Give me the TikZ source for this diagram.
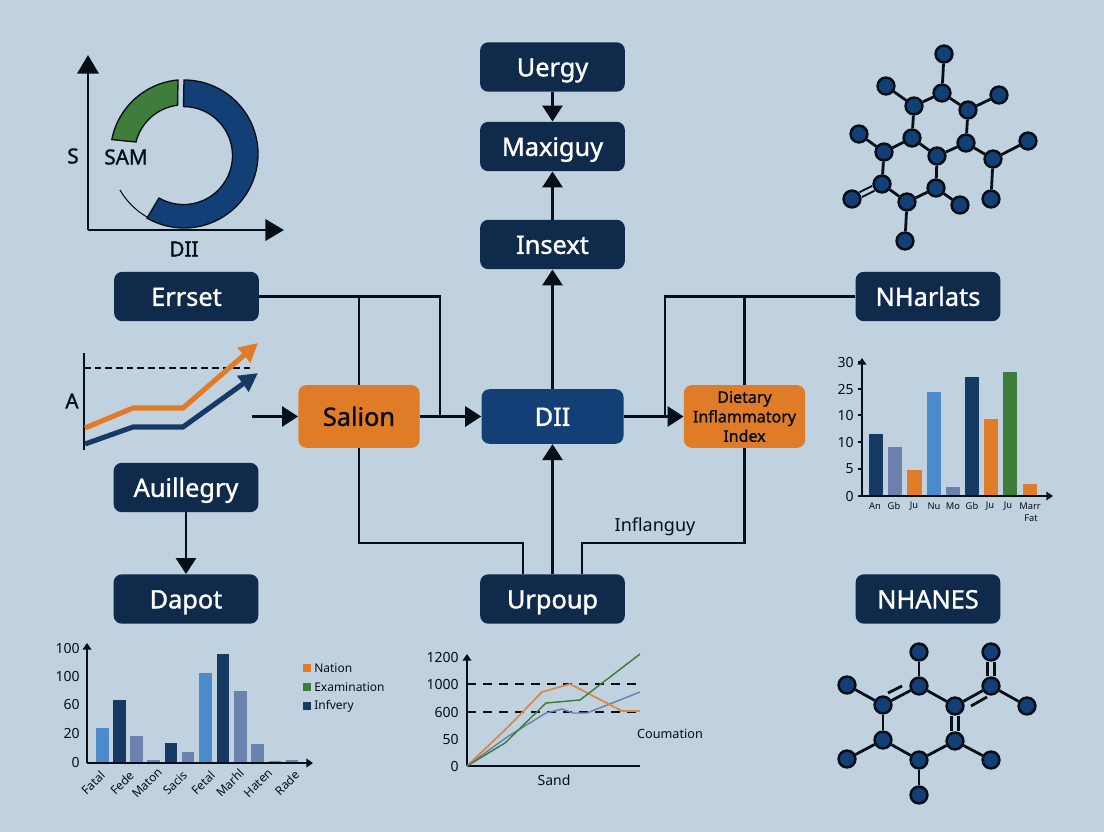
\documentclass[tikz,border=0pt]{standalone}
\usepackage{fontspec}
\setmainfont[AutoFakeBold=1.3]{Noto Sans}
\usetikzlibrary{arrows.meta}
\definecolor{paper}{HTML}{C0D2E0}
\definecolor{ink}{HTML}{060E18}
\definecolor{boxnavy}{HTML}{0F2A4A}
\definecolor{midnavy}{HTML}{123F75}
\definecolor{barnavy}{HTML}{173A64}
\definecolor{barslate}{HTML}{6C82AE}
\definecolor{barblue}{HTML}{4C8BCB}
\definecolor{bargreen}{HTML}{3F7D3A}
\definecolor{barorange}{HTML}{E07B28}
\tikzset{
  navybox/.style={draw=none, fill=boxnavy, rounded corners=6pt, minimum width=108.5pt, minimum height=37pt, text=white, font=\fontsize{19}{22}\selectfont\bfseries, inner sep=0pt, text height=16pt, text depth=2pt},
  orangebox/.style={fill=barorange, rounded corners=6pt, minimum width=91pt, minimum height=47pt, text=ink, inner sep=0pt},
  link/.style={draw=ink, line width=2.2pt},
  flow/.style={link, -{Triangle[length=12pt,width=15pt]}},
  axis/.style={draw=ink, line width=1.7pt, -{Triangle[length=5pt,width=6.5pt]}},
  atom/.style={circle, draw=ink, line width=1.9pt, fill=midnavy, minimum size=12.6pt, inner sep=0pt},
  bond/.style={draw=ink, line width=2.1pt},
  heavy/.style={font=\fontsize{15.5}{18}\selectfont\bfseries, text=ink, inner sep=0pt},
  tick/.style={font=\fontsize{10.5}{12}\selectfont, text=ink, inner sep=0pt},
  small/.style={font=\fontsize{7}{8}\selectfont, text=ink, inner sep=0pt}
}
\begin{document}
\begin{tikzpicture}[x=0.75pt, y=-0.75pt]
\fill[paper] (0,0) rectangle (1104,832);
\useasboundingbox (0,0) rectangle (1104,832);

\node[navybox] (uergy) at (552.5,67) {Uergy};
\node[navybox] (maxiguy) at (552.5,146.5) {Maxiguy};
\node[navybox] (insext) at (552.5,244.5) {Insext};
\node[navybox] (errset) at (186.5,296.5) {Errset};
\node[navybox] (nharlats) at (928,296.5) {NHarlats};
\node[navybox] (auillegry) at (186,487.5) {Auillegry};
\node[navybox] (dapot) at (186,599) {Dapot};
\node[navybox] (urpoup) at (552.5,599) {Urpoup};
\node[navybox] (nhanes) at (928,599) {NHANES};
\node[navybox, fill=midnavy, minimum width=106.5pt, minimum height=41pt] (dii) at (552.5,416.5) {DII};
\node[orangebox, font=\fontsize{19}{22}\selectfont\bfseries, text height=16pt, text depth=2pt] (salion) at (359,416.5) {Salion};
\node[orangebox, font=\fontsize{12}{14.6}\selectfont\bfseries, align=center] (dietary) at (744.5,416.5) {Dietary\\Inflammatory\\Index};

\coordinate (ain) at (252,416.5);
\coordinate (tleft) at (440,296.5);
\coordinate (tright) at (665,296.5);
\coordinate (sleft) at (359,296.5);
\coordinate (dright) at (744.5,296.5);
\coordinate (bleft) at (523,543);
\coordinate (bright) at (582,543);

\draw[link] (errset.east) -- (tleft) -- (440,416.5);
\draw[link] (sleft) -- (salion.north);
\draw[link] (nharlats.west) -- (tright) -- (665,416.5);
\draw[link] (dright) -- (dietary.north);
\draw[link] (salion.south) -- (359,543) -- (bleft) -- (523,574);
\draw[link] (dietary.south) -- (744.5,543) -- (bright) -- (582,574);
\draw[flow] (uergy) -- (maxiguy);
\draw[flow] (insext) -- (maxiguy);
\draw[flow] (dii) -- (insext);
\draw[flow] (urpoup) -- (dii);
\draw[flow] (salion) -- (dii);
\draw[flow] (dii) -- (dietary);
\draw[flow] (auillegry) -- (dapot);
\draw[flow] (ain) -- (salion);
\node[font=\fontsize{13.5}{16}\selectfont, text=ink, inner sep=0pt] (inflanguy) at (655,527) {Inflanguy};

\coordinate (donut) at (184,154);
\draw[ink, line width=1pt, fill=midnavy] (184,80) arc (-90:120:74) -- (159,198) arc (120:-90:49) -- cycle;
\draw[ink, line width=1pt, fill=bargreen] (178,80) arc (-95:-169:74) -- (136,142) arc (-166:-97:49) -- cycle;
\draw[ink, line width=0.8pt] (147,217) arc (120:150:74);
\coordinate (sorig) at (88,230);
\coordinate (stop) at (88,55);
\coordinate (sright) at (284,230);
\draw[ink, line width=2.2pt, -{Triangle[length=14pt,width=16pt]}] (sorig) -- (stop);
\draw[ink, line width=2.2pt, -{Triangle[length=14pt,width=16pt]}] (sorig) -- (sright);
\node[heavy] (slabel) at (73,156) {S};
\node[heavy] (samlabel) at (126,157) {SAM};
\node[heavy] (diilabel) at (184,249) {DII};

\draw[ink, line width=2.2pt] (84,353) -- (84,450);
\draw[ink, line width=1.5pt, dash pattern=on 5pt off 3pt] (84,368) -- (250,368);
\draw[barorange, line width=3.8pt, -{Triangle[length=14pt,width=14pt]}] (85,428) -- (133,408) -- (183,408) -- (258,343);
\draw[barnavy, line width=3.8pt, -{Triangle[length=14pt,width=14pt]}] (85,444) -- (133,427) -- (183,427) -- (258,373);
\node[heavy] (alabel) at (72,401) {A};

\foreach \name/\x/\y in {ta/944/54, tb/942/93, tc/886/86, td/914/106, te/968/110, tf/999/95, tg/912/138, th/966/143, ti/859/134, tj/884/152, tk/937/156, tl/993/159, tm/1028/141, tn/882/184, to/936/188, tp/991/199, tq/852/199, tr/907/202, ts/960/205, tt/905/241}
  \node[atom] (\name) at (\x,\y) {};
\foreach \a/\b in {ta/tb, tb/td, tb/te, tc/td, te/tf, td/tg, te/th, tg/tk, th/tk, tg/tj, ti/tj, tj/tn, tk/to, th/tl, tl/tm, tl/tp, tn/tr, tr/to, to/ts, tr/tt}
  \draw[bond] (\a) -- (\b);
\draw[draw=ink, double=paper, double distance=2.4pt, line width=1.5pt] (tn) -- (tq);

\foreach \name/\x/\y in {ba/919/652, bb/991/652, bc/919/686, bd/991/686, be/847/685, bf/883/705, bg/955/706, bh/1027/706, bi/883/740, bj/955/741, bk/847/759, bl/919/760, bm/991/760, bn/919/795}
  \node[atom] (\name) at (\x,\y) {};
\foreach \a/\b in {ba/bc, be/bf, bf/bc, bc/bg, bg/bd, bd/bh, bf/bi, bi/bk, bi/bl, bj/bl, bj/bm, bl/bn}
  \draw[bond] (\a) -- (\b);
\draw[draw=ink, double=paper, double distance=3.4pt, line width=1.7pt] (bb) -- (bd);
\draw[draw=ink, double=paper, double distance=3.4pt, line width=1.7pt] (bg) -- (bj);
\draw[bond] (888,693) -- (902,686);
\draw[bond] (971,706) -- (987,697);

\foreach \xa/\xb/\ytop/\col in {869/883/434/barnavy, 888/902/447/barslate, 907/922/470/barorange, 927/941/392/barblue, 946/960/487/barslate, 965/979/377/barnavy, 984/998/419/barorange, 1003/1017/372/bargreen, 1023/1037/484/barorange}
  \fill[\col] (\xa,\ytop) rectangle (\xb,496);
\coordinate (rorig) at (862,496);
\draw[axis] (rorig) -- (862,358);
\draw[axis] (rorig) -- (1053,496);
\foreach \lab/\y in {30/362, 25/389, 10/415, 10/442, 5/469, 0/496}{
  \node[tick, anchor=east] at (854,\y) {\lab};
  \draw[ink, line width=0.8pt] (858,\y) -- (862,\y);
}
\foreach \lab/\x in {An/875, Gb/894, Ju/914, Nu/934, Mo/953, Gb/972, Ju/990, Ju/1008, Marr/1030}
  \node[small] at (\x,506) {\lab};
\node[small] (fatlabel) at (1031,518) {Fat};

\foreach \xa/\xb/\ytop/\col in {96/109/728/barblue, 113/126/700/barnavy, 130/143/736/barslate, 147/160/760/barslate, 165/177/743/barnavy, 182/194/752/barslate, 199/212/673/barblue, 217/229/654/barnavy, 234/247/691/barslate, 251/264/744/barslate, 269/281/761/barslate, 286/298/760/barslate}
  \fill[\col] (\xa,\ytop) rectangle (\xb,763);
\coordinate (lorig) at (87,763);
\draw[axis] (lorig) -- (87,643);
\draw[axis] (lorig) -- (313,763);
\foreach \lab/\y in {100/648, 100/676, 60/704, 20/733, 0/762}
  \node[tick, anchor=east] at (80,\y) {\lab};
\foreach \lab/\x in {Fatal/93, Fede/122, Maton/147, Sacis/175, Fetal/203, Marhl/230, Haten/258, Rade/287}
  \node[small, rotate=45, font=\fontsize{9}{10}\selectfont] at (\x,783) {\lab};
\foreach \lab/\y/\col in {Nation/668/barorange, Examination/687/bargreen, Infvery/706/barnavy}{
  \fill[\col] (303,\y-4) rectangle (311,\y+4);
  \node[small, font=\fontsize{9}{10}\selectfont, anchor=west] at (314,\y) {\lab};
}

\coordinate (morig) at (467,766);
\draw[axis] (morig) -- (467,654);
\draw[ink, line width=1.7pt] (morig) -- (640,766);
\foreach \lab/\y in {1200/657, 1000/684, 600/712, 50/739, 0/766}
  \node[tick, anchor=east] at (459,\y) {\lab};
\draw[ink, line width=1.5pt, dash pattern=on 7pt off 5pt] (467,684) -- (640,684);
\draw[ink, line width=1.5pt, dash pattern=on 7pt off 5pt] (467,712) -- (640,712);
\draw[barslate, line width=1.1pt] (morig) -- (507,737) -- (546,713) -- (562,709) -- (573,713) -- (587,713) -- (640,692);
\draw[barorange!85!paper, line width=1.3pt] (morig) -- (507,728) -- (542,692) -- (570,684) -- (622,711) -- (640,711);
\draw[bargreen, line width=1.1pt] (morig) -- (505,743) -- (546,703) -- (580,700) -- (640,654);
\node[font=\fontsize{9.5}{11}\selectfont, text=ink, inner sep=0pt] (coumation) at (670,734) {Coumation};
\node[font=\fontsize{10.5}{12}\selectfont, text=ink, inner sep=0pt] (sand) at (554,780) {Sand};
\end{tikzpicture}
\end{document}
